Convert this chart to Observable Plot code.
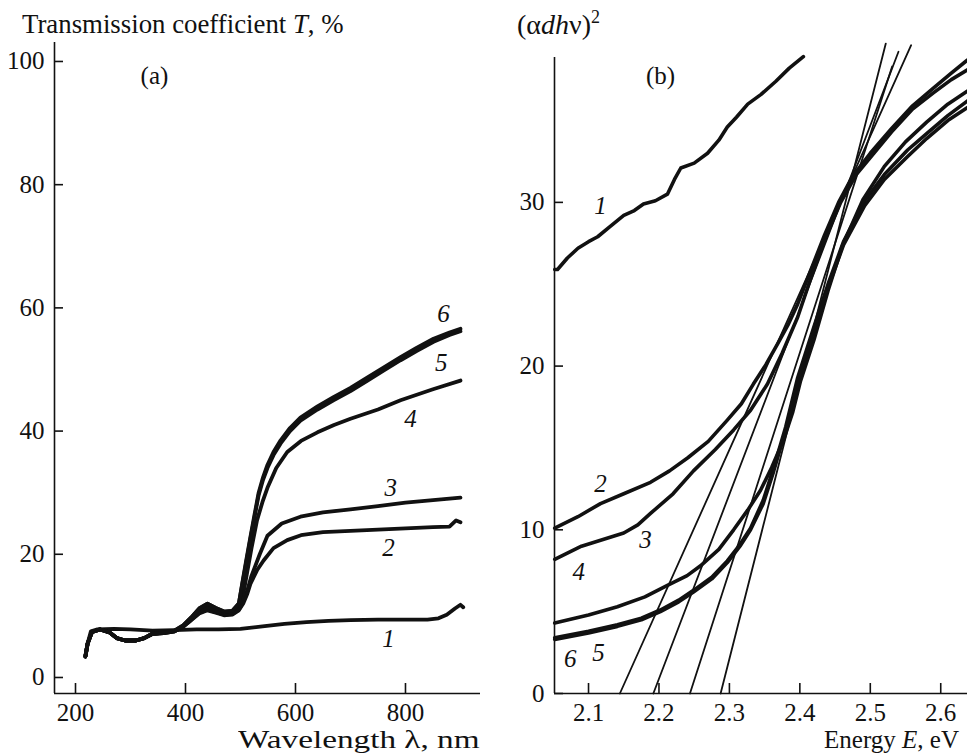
<!DOCTYPE html>
<html><head><meta charset="utf-8">
<script src="https://cdn.jsdelivr.net/npm/d3@7"></script>
<script src="https://cdn.jsdelivr.net/npm/@observablehq/plot@0.6"></script>
<style>
html,body{margin:0;padding:0;background:#fff;}
#wrap{position:relative;width:967px;height:753px;overflow:hidden;font-family:"Liberation Serif","Times New Roman",serif;color:#111;background:#fff;}
#pa,#pb{position:absolute;top:0;}
#pa{left:0;} #pb{left:480px;}
.lbl{position:absolute;font-size:25px;white-space:nowrap;line-height:1;}
</style></head><body>
<div id="wrap">
  <div id="pa"></div><div id="pb"></div>
  <div class="lbl" style="left:22px;top:11px;font-size:26.8px">Transmission coefficient <i>T</i>, %</div>
  <div class="lbl" style="left:517px;top:11px;font-size:28px">(α<i>dh</i>ν)<sup style="font-size:18px;vertical-align:11px;line-height:0">2</sup></div>
  <div class="lbl" style="right:487px;top:727px;transform:scaleX(1.33);transform-origin:right center">Wavelength λ, nm</div>
  <div class="lbl" style="right:8px;top:727px">Energy <i>E</i>, eV</div>
</div>
<script>
// ---------- Panel (a): transmission T (%) vs wavelength (nm) ----------
const xTicksA = [200, 400, 600, 800];
const yTicksA = [0, 20, 40, 60, 80, 100];
const xDomA = [161.8, 936.4];
const yDomA = [-2.6, 103.08];

const A1 = [[218,3.6],[222,5.5],[228,7.5],[240,7.8],[270,7.9],[300,7.8],[340,7.6],[380,7.7],[420,7.8],[460,7.8],[500,7.9],[540,8.3],[580,8.7],[620,9.0],[660,9.2],[700,9.3],[750,9.4],[800,9.4],[840,9.4],[860,9.6],[875,10.2],[890,11.2],[900,11.8],[905,11.4]];
const A2 = [[218,3.4],[222,5.5],[230,7.4],[245,7.8],[262,7.3],[275,6.4],[290,6.0],[310,6.0],[325,6.4],[340,7.1],[360,7.2],[380,7.5],[395,8.2],[410,9.3],[425,10.4],[440,10.9],[455,10.5],[470,10.1],[485,10.2],[497,10.9],[505,12.0],[512,13.5],[518,15.2],[530,17.4],[542,19.0],[560,21.0],[585,22.3],[610,23.1],[650,23.6],[700,23.8],[750,24.0],[800,24.2],[850,24.4],[880,24.5],[892,25.5],[900,25.2]];
const A3 = [[218,3.4],[222,5.5],[230,7.4],[245,7.8],[262,7.3],[275,6.4],[290,6.0],[310,6.0],[325,6.4],[340,7.1],[360,7.2],[380,7.5],[395,8.2],[410,9.3],[425,10.5],[440,11.0],[455,10.6],[470,10.2],[485,10.3],[497,11.0],[505,12.3],[512,14.0],[520,16.5],[535,20.0],[549,23.0],[575,25.0],[609,26.1],[650,26.8],[700,27.3],[750,27.8],[800,28.4],[850,28.8],[900,29.2]];
const A4 = [[218,3.4],[222,5.5],[230,7.4],[245,7.8],[262,7.3],[275,6.4],[290,6.0],[310,6.0],[325,6.4],[340,7.1],[360,7.2],[380,7.5],[395,8.3],[410,9.5],[425,10.8],[440,11.4],[455,10.9],[470,10.4],[485,10.5],[497,11.5],[505,13.5],[512,17.0],[520,21.0],[530,25.5],[540,28.5],[549,30.8],[565,34.0],[585,36.6],[610,38.4],[640,39.8],[670,41.0],[700,42.0],[750,43.5],[791,45.0],[850,46.8],[900,48.2]];
const A5 = [[218,3.4],[222,5.5],[230,7.4],[245,7.8],[262,7.3],[275,6.4],[290,6.0],[310,6.0],[325,6.4],[340,7.1],[360,7.3],[380,7.6],[395,8.4],[410,9.7],[425,11.2],[440,12.0],[455,11.3],[470,10.7],[485,10.8],[497,12.0],[503,15.0],[510,18.5],[518,22.5],[525,25.8],[533,29.6],[541,32.1],[549,34.0],[560,36.1],[573,38.0],[590,40.0],[609,41.7],[640,43.5],[669,45.0],[700,46.5],[731,48.2],[760,49.8],[791,51.5],[820,53.0],[851,54.5],[880,55.6],[900,56.2]];
const A6 = [[218,3.4],[222,5.5],[230,7.4],[245,7.8],[262,7.3],[275,6.4],[290,6.0],[310,6.0],[325,6.4],[340,7.1],[360,7.3],[380,7.6],[395,8.4],[410,9.7],[425,11.2],[440,12.0],[455,11.3],[470,10.7],[485,10.8],[497,12.0],[503,15.2],[510,18.8],[518,22.8],[525,26.2],[533,30.0],[541,32.5],[549,34.5],[560,36.6],[573,38.5],[590,40.5],[609,42.2],[640,44.0],[669,45.5],[700,47.0],[731,48.7],[760,50.3],[791,52.0],[820,53.5],[851,55.0],[880,56.0],[900,56.6]];
const curvesA = [A1, A2, A3, A4, A5, A6];
const labelsA = [
  {x: 343.6, y: 97.7, t: "(a)", italic: false},
  {x: 869, y: 59.0, t: "6", italic: true},
  {x: 865, y: 51.0, t: "5", italic: true},
  {x: 809, y: 42.0, t: "4", italic: true},
  {x: 773, y: 30.7, t: "3", italic: true},
  {x: 769, y: 21.1, t: "2", italic: true},
  {x: 769, y: 6.3, t: "1", italic: true}
];

// ---------- Panel (b): (alpha d h nu)^2 vs photon energy (eV) ----------
const xTicksB = [2.1, 2.2, 2.3, 2.4, 2.5, 2.6];
const yTicksB = [0, 10, 20, 30];
const xDomB = [2.0517, 2.638];
const yDomB = [0, 38.85];

const B1 = [[2.052,25.9],[2.056,25.9],[2.07,26.6],[2.085,27.2],[2.1,27.6],[2.113,27.9],[2.13,28.5],[2.15,29.2],[2.165,29.5],[2.178,29.9],[2.195,30.1],[2.212,30.5],[2.222,31.4],[2.231,32.1],[2.25,32.4],[2.269,33.0],[2.285,33.8],[2.297,34.6],[2.31,35.2],[2.326,36.0],[2.345,36.6],[2.366,37.4],[2.385,38.2],[2.405,38.9]];
const B2 = [[2.052,10.1],[2.085,10.8],[2.117,11.6],[2.15,12.2],[2.188,12.9],[2.215,13.6],[2.241,14.4],[2.27,15.4],[2.297,16.7],[2.317,17.7],[2.334,18.9],[2.352,20.1],[2.369,21.4],[2.383,22.5],[2.397,23.8],[2.415,25.8],[2.435,28.0],[2.455,30.0],[2.475,31.6],[2.5,33.0],[2.53,34.5],[2.56,35.9],[2.59,37.0],[2.615,37.9],[2.638,38.7]];
const B3 = [[2.052,8.2],[2.09,9.0],[2.15,9.8],[2.17,10.3],[2.188,11.0],[2.22,12.2],[2.249,13.6],[2.28,14.9],[2.306,16.1],[2.33,17.3],[2.354,18.9],[2.375,20.8],[2.397,23.0],[2.415,25.3],[2.435,27.7],[2.458,30.0],[2.48,31.7],[2.505,33.0],[2.53,34.3],[2.56,35.7],[2.59,36.7],[2.615,37.5],[2.638,38.1]];
const B4 = [[2.052,4.3],[2.1,4.8],[2.141,5.3],[2.18,5.9],[2.212,6.6],[2.24,7.2],[2.259,7.8],[2.285,8.8],[2.306,10.0],[2.326,11.2],[2.344,12.4],[2.36,13.8],[2.377,15.5],[2.39,17.2],[2.401,19.1],[2.42,21.6],[2.44,24.6],[2.46,27.3],[2.49,30.2],[2.52,32.2],[2.55,33.7],[2.58,34.9],[2.61,36.0],[2.638,36.8]];
const B5 = [[2.052,3.4],[2.1,3.8],[2.141,4.2],[2.175,4.6],[2.202,5.1],[2.228,5.7],[2.249,6.3],[2.275,7.1],[2.297,8.1],[2.315,9.1],[2.33,10.1],[2.348,11.8],[2.363,13.8],[2.38,16.3],[2.397,19.3],[2.42,22.4],[2.44,25.0],[2.462,27.6],[2.492,30.1],[2.52,31.7],[2.553,33.2],[2.58,34.2],[2.61,35.3],[2.638,36.2]];
const B6 = [[2.052,3.3],[2.1,3.7],[2.141,4.1],[2.175,4.5],[2.202,5.0],[2.228,5.6],[2.249,6.2],[2.275,7.0],[2.297,8.0],[2.315,9.0],[2.33,10.0],[2.348,11.6],[2.363,13.6],[2.38,16.1],[2.397,19.0],[2.42,22.2],[2.44,24.8],[2.462,27.4],[2.492,29.8],[2.52,31.4],[2.553,32.8],[2.58,33.9],[2.61,35.0],[2.638,35.8]];
const curvesB = [B1, B2, B3, B4, B5, B6];
const tangentsB = [
  [[2.1445, 0], [2.558, 39.6]],
  [[2.192, 0], [2.540, 39.2]],
  [[2.244, 0], [2.531, 38.3]],
  [[2.2875, 0], [2.522, 39.7]]
];
const labelsB = [
  {x: 2.2023, y: 37.75, t: "(b)", italic: false},
  {x: 2.117, y: 29.8, t: "1", italic: true},
  {x: 2.117, y: 12.8, t: "2", italic: true},
  {x: 2.181, y: 9.4, t: "3", italic: true},
  {x: 2.086, y: 7.45, t: "4", italic: true},
  {x: 2.114, y: 2.5, t: "5", italic: true},
  {x: 2.074, y: 2.08, t: "6", italic: true}
];

const INK = "#111";
const baseStyle = {fontFamily: "'Liberation Serif','Times New Roman',serif", fontSize: "25px", color: INK, background: "transparent", overflow: "visible"};

function panel({width, marginLeft, marginTop, marginBottom, xDom, yDom, xTicks, yTicks, xFmt, curves, curveWidth, tangents, labels}) {
  const height = 753;
  const innerW = width - marginLeft;
  const innerH = height - marginTop - marginBottom;
  const marks = [
    Plot.ruleX([xDom[0]], {stroke: INK, strokeWidth: 1.6}),
    Plot.ruleY([yDom[0]], {stroke: INK, strokeWidth: 1.6}),
    Plot.tickY(yTicks, {y: d => d, stroke: INK, strokeWidth: 1.6, insetRight: innerW - 9}),
    Plot.tickX(xTicks, {x: d => d, stroke: INK, strokeWidth: 1.6, insetTop: innerH - 10}),
    Plot.axisY(yTicks, {tickSize: 0, tickPadding: 10, label: null, fontSize: 25, fill: INK}),
    Plot.axisX(xTicks, {tickSize: 0, tickPadding: 10, label: null, fontSize: 25, fill: INK, tickFormat: xFmt})
  ];
  if (tangents) for (const t of tangents) marks.push(Plot.line(t, {x: d => d[0], y: d => d[1], stroke: INK, strokeWidth: 1.8}));
  for (const c of curves) marks.push(Plot.line(c, {x: d => d[0], y: d => d[1], stroke: INK, strokeWidth: curveWidth, strokeLinejoin: "round", strokeLinecap: "round"}));
  marks.push(Plot.text(labels.filter(d => d.italic), {x: "x", y: "y", text: "t", fontStyle: "italic", fontSize: 25, fill: INK}));
  marks.push(Plot.text(labels.filter(d => !d.italic), {x: "x", y: "y", text: "t", fontSize: 25, fill: INK}));
  return Plot.plot({
    width, height, marginLeft, marginRight: 0, marginTop, marginBottom,
    x: {domain: xDom, axis: null},
    y: {domain: yDom, axis: null},
    style: baseStyle,
    marks
  });
}

document.getElementById("pa").appendChild(panel({
  width: 480, marginLeft: 54, marginTop: 42, marginBottom: 60,
  xDom: xDomA, yDom: yDomA, xTicks: xTicksA, yTicks: yTicksA, xFmt: d => String(d),
  curves: curvesA, curveWidth: 3.8, tangents: null, labels: labelsA
}));
document.getElementById("pb").appendChild(panel({
  width: 487, marginLeft: 74, marginTop: 57, marginBottom: 60,
  xDom: xDomB, yDom: yDomB, xTicks: xTicksB, yTicks: yTicksB, xFmt: d3.format(".1f"),
  curves: curvesB, curveWidth: 3.6, tangents: tangentsB, labels: labelsB
}));
</script>
</body></html>
